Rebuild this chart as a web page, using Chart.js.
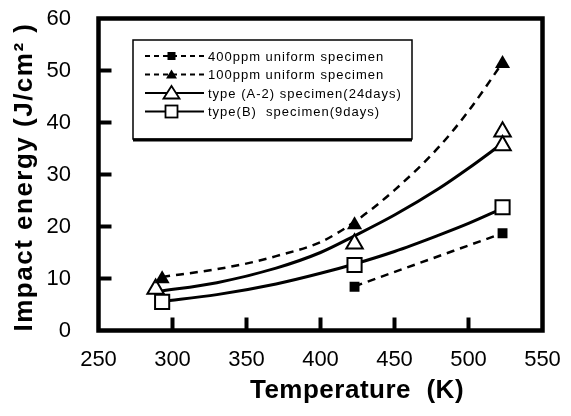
<!DOCTYPE html>
<html>
<head>
<meta charset="utf-8">
<script src="https://cdn.jsdelivr.net/npm/chart.js@4/dist/chart.umd.min.js"></script>
<style>
html,body{margin:0;padding:0;background:#fff;}
#wrap{width:571px;height:416px;position:relative;}
</style>
</head>
<body>
<div id="wrap"><canvas id="c"></canvas></div>
<script>
// ---- data ----
const xTitle = 'Temperature  (K)';
const yTitle = 'Impact energy (J/cm\u00B2 )';
const legendLabels = ['400ppm uniform specimen', '100ppm uniform specimen', 'type (A-2) specimen(24days)', 'type(B)  specimen(9days)'];

// measured points
const t400 = [423, 523];            const v400 = [8.4, 18.7];
const t100 = [293, 423, 523];       const v100 = [9.9, 20.3, 51.3];
const tA2  = [288.6, 423, 523, 523]; const vA2 = [8.0, 16.7, 38.2, 35.6];
const tB   = [293, 423, 523];       const vB   = [5.5, 12.6, 23.7];

// fitted curves
const c400T = [423, 523];                                   const c400V = [8.5, 18.7];
const c100T = [293, 330, 352, 370, 400, 423, 450, 480, 500, 523]; const c100V = [10.3, 11.8, 13.0, 14.3, 17.0, 20.9, 27.0, 35.3, 42.2, 51.5];
const cA2T  = [290, 330, 370, 400, 423, 450, 480, 500, 523]; const cA2V  = [7.5, 9.2, 12.0, 15.0, 18.2, 22.2, 27.3, 31.2, 36.0];
const cBT   = [293, 330, 370, 400, 423, 450, 480, 500, 523]; const cBV   = [5.6, 6.9, 8.95, 11.0, 12.8, 15.2, 18.35, 20.6, 23.5];

const xTicks = [250, 300, 350, 400, 450, 500, 550];
const yTicks = [0, 10, 20, 30, 40, 50, 60];

const pts = (xs, ys) => xs.map((x, i) => ({x: x, y: ys[i]}));

const markerDs = (xs, ys, style, filled, r) => ({
  data: pts(xs, ys), showLine: false, pointStyle: style, pointRadius: r,
  pointBackgroundColor: filled ? '#000' : '#fff', pointBorderColor: '#000',
  pointBorderWidth: filled ? 0 : 2, order: 0
});
const lineDs = (xs, ys, dashed) => ({
  data: pts(xs, ys), showLine: true, pointRadius: 0, borderColor: '#000',
  borderWidth: dashed ? 2.5 : 3, borderDash: dashed ? [8, 6] : [],
  cubicInterpolationMode: 'monotone', fill: false, order: 1
});

const framePlugin = {
  id: 'frame',
  afterDraw(chart) {
    const ctx = chart.ctx, a = chart.chartArea;
    const xs = chart.scales.x, ys = chart.scales.y;
    ctx.save();
    ctx.strokeStyle = '#000';
    ctx.lineWidth = 4.5;
    ctx.lineCap = 'butt';
    ctx.strokeRect(a.left, a.top, a.right - a.left, a.bottom - a.top);
    // inward ticks
    ctx.lineWidth = 4;
    xTicks.slice(1, -1).forEach(t => {
      const p = xs.getPixelForValue(t);
      ctx.beginPath(); ctx.moveTo(p, a.bottom); ctx.lineTo(p, a.bottom - 13); ctx.stroke();
    });
    yTicks.slice(1, -1).forEach(t => {
      const p = ys.getPixelForValue(t);
      ctx.beginPath(); ctx.moveTo(a.left, p); ctx.lineTo(a.left + 13, p); ctx.stroke();
    });

    // axis titles
    ctx.fillStyle = '#000';
    ctx.font = 'bold 26px "Liberation Sans", Arial, sans-serif';
    ctx.letterSpacing = '0.5px';
    ctx.textAlign = 'center';
    ctx.textBaseline = 'alphabetic';
    ctx.fillText(xTitle, 357, 398);
    ctx.save();
    ctx.translate(32, 177);
    ctx.rotate(-Math.PI / 2);
    ctx.letterSpacing = '1.5px';
    ctx.fillText(yTitle, 0, 0);
    ctx.restore();

    // legend
    const L = 133, T = 40, R = 412, B = 139;
    ctx.lineWidth = 1.5;
    ctx.strokeRect(L, T, R - L, B - T);
    ctx.lineWidth = 3;
    ctx.beginPath(); ctx.moveTo(L, B + 1); ctx.lineTo(R, B + 1); ctx.stroke();
    const rows = [56, 74.5, 93, 111.5];
    const sx0 = 145, sx1 = 204, mx = 171.5;
    ctx.font = '13px "Liberation Sans", Arial, sans-serif';
    ctx.letterSpacing = '1px';
    ctx.textAlign = 'left';
    ctx.textBaseline = 'middle';
    rows.forEach((y, i) => {
      ctx.save();
      ctx.lineWidth = 2;
      ctx.setLineDash(i < 2 ? [5, 4] : []);
      ctx.beginPath(); ctx.moveTo(sx0, y); ctx.lineTo(sx1, y); ctx.stroke();
      ctx.restore();
      ctx.save();
      ctx.lineWidth = 1.8;
      if (i === 0) {
        ctx.fillRect(mx - 4, y - 4, 8, 8);
      } else if (i === 1) {
        ctx.beginPath(); ctx.moveTo(mx, y - 5); ctx.lineTo(mx + 5.5, y + 4); ctx.lineTo(mx - 5.5, y + 4); ctx.closePath(); ctx.fill();
      } else if (i === 2) {
        ctx.fillStyle = '#fff';
        ctx.beginPath(); ctx.moveTo(mx, y - 7); ctx.lineTo(mx + 8, y + 5.5); ctx.lineTo(mx - 8, y + 5.5); ctx.closePath(); ctx.fill(); ctx.stroke();
      } else {
        ctx.fillStyle = '#fff';
        ctx.fillRect(mx - 6, y - 6, 12, 12); ctx.strokeRect(mx - 6, y - 6, 12, 12);
      }
      ctx.restore();
      ctx.fillText(legendLabels[i], 208, y + 1);
    });
    ctx.restore();
  }
};

new Chart(document.getElementById('c'), {
  type: 'scatter',
  data: {
    datasets: [
      markerDs(t400, v400, 'rect', true, 7),
      markerDs(t100, v100, 'triangle', true, 8.7),
      markerDs(tA2, vA2, 'triangle', false, 9.5),
      markerDs(tB, vB, 'rect', false, 10),
      lineDs(c400T, c400V, true),
      lineDs(c100T, c100V, true),
      lineDs(cA2T, cA2V, false),
      lineDs(cBT, cBV, false)
    ]
  },
  options: {
    responsive: true, maintainAspectRatio: false, animation: false,
    layout: {padding: {left: 0, right: 28.5, top: 18.5, bottom: 0}},
    plugins: {legend: {display: false}, tooltip: {enabled: false}},
    scales: {
      x: {
        type: 'linear', min: 250, max: 550,
        afterBuildTicks: s => { s.ticks = xTicks.map(v => ({value: v})); },
        afterFit: s => { s.height = 85.5; s.paddingLeft = 0; s.paddingRight = 0; },
        grid: {display: false}, border: {display: false},
        ticks: {color: '#000', padding: 8, maxRotation: 0, font: {family: '"Liberation Sans", Arial, sans-serif', size: 22}}
      },
      y: {
        type: 'linear', min: 0, max: 60,
        afterBuildTicks: s => { s.ticks = yTicks.map(v => ({value: v})); },
        afterFit: s => { s.width = 98.5; s.paddingTop = 0; s.paddingBottom = 0; },
        grid: {display: false}, border: {display: false},
        ticks: {color: '#000', padding: 19.5, font: {family: '"Liberation Sans", Arial, sans-serif', size: 22}}
      }
    }
  },
  plugins: [framePlugin]
});
</script>
</body>
</html>
